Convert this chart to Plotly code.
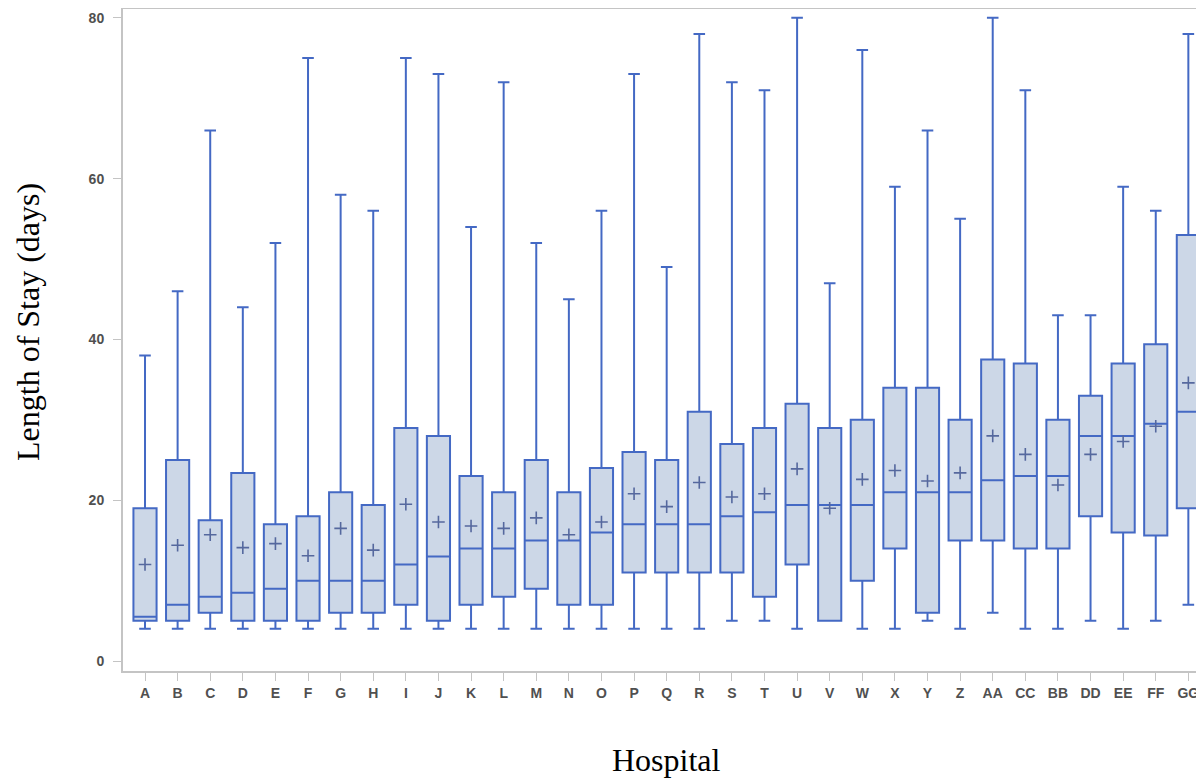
import plotly.graph_objects as go

# 33 hospitals: A..Z plus AA, CC, BB, DD, EE, FF, GG (order as shown)
hospitals = ["A","B","C","D","E","F","G","H","I","J","K","L","M","N","O","P","Q","R","S","T",
             "U","V","W","X","Y","Z","AA","CC","BB","DD","EE","FF","GG"]

los_min    = [4, 4, 4, 4, 4, 4, 4, 4, 4, 4, 4, 4, 4, 4, 4, 4, 4, 4, 5, 5, 4, 5, 4, 4, 5, 4, 6, 4, 4, 5, 4, 5, 7]
los_q1     = [5, 5, 6, 5, 5, 5, 6, 6, 7, 5, 7, 8, 9, 7, 7, 11, 11, 11, 11, 8, 12, 5, 10, 14, 6, 15, 15, 14, 14, 18, 16, 15.6, 19]
los_median = [5.5, 7, 8, 8.5, 9, 10, 10, 10, 12, 13, 14, 14, 15, 15, 16, 17, 17, 17, 18, 18.5, 19.4, 19.4, 19.4, 21, 21, 21, 22.5, 23, 23, 28, 28, 29.5, 31]
los_q3     = [19, 25, 17.5, 23.4, 17, 18, 21, 19.4, 29, 28, 23, 21, 25, 21, 24, 26, 25, 31, 27, 29, 32, 29, 30, 34, 34, 30, 37.5, 37, 30, 33, 37, 39.4, 53]
los_max    = [38, 46, 66, 44, 52, 75, 58, 56, 75, 73, 54, 72, 52, 45, 56, 73, 49, 78, 72, 71, 80, 47, 76, 59, 66, 55, 80, 71, 43, 43, 59, 56, 78]
los_mean   = [12, 14.4, 15.7, 14.1, 14.6, 13.1, 16.5, 13.8, 19.5, 17.3, 16.8, 16.5, 17.8, 15.7, 17.3, 20.8, 19.2, 22.2, 20.4, 20.8, 23.9, 19.0, 22.6, 23.7, 22.4, 23.4, 28.0, 25.7, 21.9, 25.7, 27.3, 29.2, 34.6]
y_ticks = [0, 20, 40, 60, 80]

x_idx = list(range(len(hospitals)))

line_col = "#4469C4"
fill_col = "#CCD7E7"
axis_col = "#C4C4C4"
tick_font = dict(family="Liberation Sans, Arial", size=14, color="#505050", weight="bold")
title_font = dict(family="Liberation Serif, Times New Roman", size=32, color="black")

fig = go.Figure()
fig.add_trace(go.Box(
    x=x_idx,
    q1=los_q1, median=los_median, q3=los_q3,
    lowerfence=los_min, upperfence=los_max,
    line=dict(color=line_col, width=2),
    fillcolor=fill_col,
    width=0.71,
    whiskerwidth=0.5,
    boxpoints=False,
    showlegend=False,
    hoverinfo="skip",
))
fig.add_trace(go.Scatter(
    x=x_idx, y=los_mean, mode="markers",
    marker=dict(symbol="cross-thin", size=9, line=dict(color="#55689E", width=1.6)),
    showlegend=False, hoverinfo="skip",
))

n = len(hospitals)
fig.update_layout(
    width=1196, height=770,
    margin=dict(l=115, r=0, t=1, b=107, autoexpand=False),
    plot_bgcolor="white", paper_bgcolor="white",
    xaxis=dict(
        range=[-0.675, n - 1 + 0.48],
        tickmode="array", tickvals=x_idx, ticktext=hospitals,
        showline=True, linecolor=axis_col, linewidth=2, mirror=True,
        ticks="outside", ticklen=8, tickcolor=axis_col, tickwidth=1,
        ticklabelstandoff=0,
        showgrid=False, zeroline=False, automargin=False,
        tickfont=tick_font,
    ),
    yaxis=dict(
        range=[-1.24, 81.1],
        tickvals=y_ticks,
        showline=True, linecolor=axis_col, linewidth=2, mirror=False,
        ticks="outside", ticklen=8, tickcolor=axis_col, tickwidth=1,
        ticklabelstandoff=6,
        showgrid=False, zeroline=False, automargin=False,
        tickfont=tick_font,
    ),
    annotations=[
        dict(text="Hospital", xref="paper", yref="paper", x=0.503, y=-0.134,
             xanchor="center", yanchor="middle", showarrow=False, font=title_font),
        dict(text="Length of Stay (days)", xref="paper", x=-0.088, yref="paper", y=0.527,
             xanchor="center", yanchor="middle", textangle=-90, showarrow=False, font=title_font),
    ],
)

fig.write_html("out.html")
